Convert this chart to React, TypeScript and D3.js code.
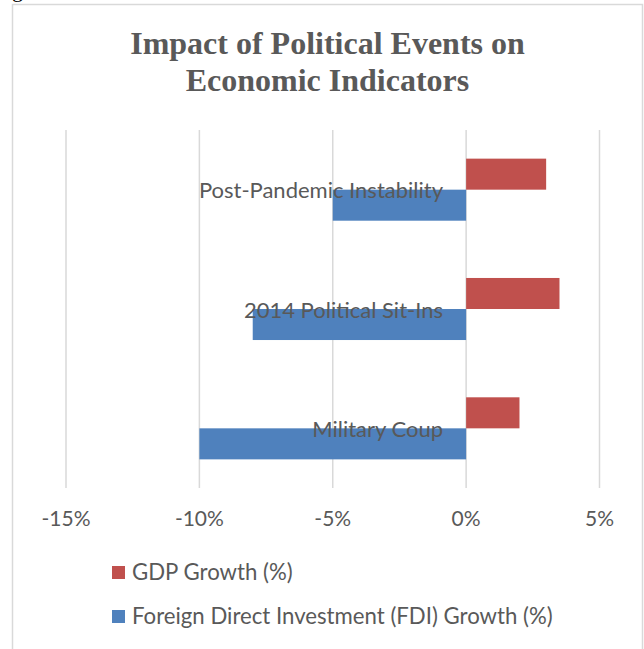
import React from "react";
import * as d3 from "d3";

const categories = ["Post-Pandemic Instability", "2014 Political Sit-Ins", "Military Coup"];
const gdpGrowth = [3, 3.5, 2];
const fdiGrowth = [-5, -8, -10];
const seriesNames = ["GDP Growth (%)", "Foreign Direct Investment (FDI) Growth (%)"];
const seriesColors = ["#C0504D", "#4F81BD"];
const xTicks = [-15, -10, -5, 0, 5];
const titleLines = ["Impact of Political Events on", "Economic Indicators"];

const W = 644;
const H = 649;
const FONT = "Lato, 'Open Sans', sans-serif";
const TXT = "#595959";

export default function App() {
  const x = d3.scaleLinear().domain([-15, 5]).range([66, 599.5]);
  const y = d3
    .scaleBand<string>()
    .domain(categories)
    .range([130, 488])
    .paddingInner(0.48)
    .paddingOuter(0.24);
  const sub = d3.scaleBand<string>().domain(["gdp", "fdi"]).range([0, y.bandwidth()]);
  const series = [
    { key: "gdp", values: gdpGrowth, color: seriesColors[0] },
    { key: "fdi", values: fdiGrowth, color: seriesColors[1] },
  ];

  return (
    <svg
      width={W}
      height={H}
      style={{ position: "absolute", left: 0, top: 0, background: "#fff" }}
    >
      <rect x={0} y={0} width={W} height={H} fill="#fff" />
      <text x={12} y={-3} fontFamily="'Liberation Serif', serif" fontSize={22} fill="#000">
        g
      </text>
      <path d={`M12.5,${H} V4.5 H642.5 V${H}`} fill="none" stroke="#d9d9d9" strokeWidth={1.5} />

      {titleLines.map((t, i) => (
        <text
          key={t}
          x={327.5}
          y={54 + i * 36.7}
          textAnchor="middle"
          fontFamily="'Liberation Serif', 'Times New Roman', serif"
          fontWeight="bold"
          fontSize={32}
          fill={TXT}
        >
          {t}
        </text>
      ))}

      {xTicks.map((t) => (
        <line key={"g" + t} x1={x(t)} x2={x(t)} y1={130} y2={488} stroke="#d9d9d9" strokeWidth={1.5} />
      ))}

      {series.map((s) =>
        categories.map((c, i) => {
          const v = s.values[i];
          const x0 = x(Math.min(0, v));
          const x1 = x(Math.max(0, v));
          return (
            <rect
              key={s.key + c}
              x={x0}
              y={(y(c) as number) + (sub(s.key) as number)}
              width={x1 - x0}
              height={sub.bandwidth()}
              fill={s.color}
            />
          );
        })
      )}

      {categories.map((c) => (
        <text
          key={"l" + c}
          x={443}
          y={(y(c) as number) + y.bandwidth() / 2 + 8.5}
          textAnchor="end"
          fontFamily={FONT}
          fontSize={22}
          fill={TXT}
        >
          {c}
        </text>
      ))}

      {xTicks.map((t) => (
        <text
          key={"t" + t}
          x={x(t)}
          y={526}
          textAnchor="middle"
          fontFamily={FONT}
          fontSize={21}
          fill={TXT}
        >
          {t + "%"}
        </text>
      ))}

      {seriesNames.map((n, i) => (
        <g key={n}>
          <rect x={112} y={566 + i * 44} width={13} height={13} fill={seriesColors[i]} />
          <text x={132} y={579.5 + i * 44} fontFamily={FONT} fontSize={22.2} fill={TXT}>
            {n}
          </text>
        </g>
      ))}
    </svg>
  );
}
